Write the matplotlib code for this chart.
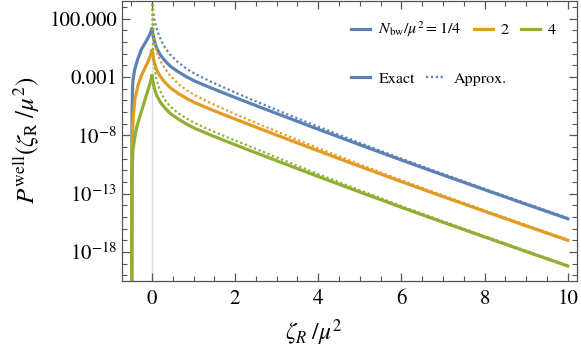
import numpy as np
import matplotlib
matplotlib.use('Agg')
import matplotlib.pyplot as plt
from matplotlib.lines import Line2D

# values, y given as log10 of P
x_left_blue = [-0.49, -0.48, -0.47, -0.46, -0.42, -0.34, -0.25, -0.13, -0.05, 0.0]
y_left_blue = [-25, -6.5, -4.5, -3.4, -2.44, -1.45, -0.6, 0.12, 0.65, 1.1]
x_left_orange = [-0.49, -0.48, -0.47, -0.45, -0.41, -0.33, -0.25, -0.13, -0.05, 0.0]
y_left_orange = [-25, -9.5, -8.0, -6.4, -4.9, -3.65, -2.85, -1.95, -1.3, -0.74]
x_left_green = [-0.49, -0.48, -0.46, -0.43, -0.40, -0.36, -0.30, -0.24, -0.12, -0.05, 0.0]
y_left_green = [-25, -11.5, -9.3, -8.6, -7.9, -7.2, -6.5, -5.8, -4.4, -3.6, -2.9]

x_right = [0.0, 0.05, 0.11, 0.2, 0.31, 0.45, 0.63, 0.83, 1.03, 1.43, 1.83, 2.24,
           3, 4, 5, 6, 7, 8, 9, 10]
y_right_blue = [1.1, 0.2, -0.5, -1.1, -1.6, -2.1, -2.55, -2.98, -3.35, -3.95, -4.52, -5.09,
                -6.13, -7.48, -8.81, -10.12, -11.4, -12.66, -13.91, -15.15]
y_right_orange = [-0.74, -1.65, -2.35, -2.95, -3.45, -3.95, -4.4, -4.83, -5.2, -5.8, -6.37, -6.94,
                  -7.98, -9.33, -10.66, -11.97, -13.25, -14.51, -15.76, -17.0]
y_right_green = [-2.9, -3.85, -4.55, -5.15, -5.65, -6.15, -6.6, -7.03, -7.4, -8.0, -8.57, -9.14,
                 -10.18, -11.53, -12.86, -14.17, -15.45, -16.71, -17.96, -19.2]

x_approx = [0.005, 0.02, 0.03, 0.05, 0.07, 0.11, 0.15, 0.23, 0.31, 0.43, 0.63, 0.83, 1.03,
            1.43, 1.83, 2.24, 3, 4, 5, 6, 7, 8, 9, 10]
y_approx_blue = [6, 3.6, 2.7, 2.1, 1.7, 1.2, 0.75, 0.05, -0.45, -1.05, -1.75, -2.28, -2.72,
                 -3.43, -4.06, -4.7, -5.83, -7.26, -8.65, -10.0, -11.3, -12.58, -13.84, -15.09]
y_approx_orange = [4.5, 2.2, 1.4, 0.6, 0.0, -0.7, -1.2, -1.8, -2.25, -2.85, -3.58, -4.12, -4.56,
                   -5.27, -5.9, -6.54, -7.67, -9.1, -10.49, -11.85, -13.15, -14.43, -15.69, -16.94]
y_approx_green = [4, 0.8, -0.7, -1.8, -2.4, -3.2, -3.75, -4.45, -4.95, -5.5, -6.1, -6.55, -6.95,
                  -7.6, -8.2, -8.78, -9.9, -11.32, -12.71, -14.06, -15.36, -16.64, -17.9, -19.15]

blue = '#5e81b5'
orange = '#e19c24'
green = '#8fb032'

plt.rcParams['mathtext.fontset'] = 'stix'
plt.rcParams['font.family'] = ['STIXGeneral', 'DejaVu Serif']

fig = plt.figure(figsize=(5.81, 3.49), dpi=100)
ax = fig.add_axes([0.21, 0.195, 0.783, 0.803])

ax.axvline(0, color='#dddddd', lw=1, zorder=0)

lw = 2.3
ax.plot(x_left_blue, 10.0 ** np.array(y_left_blue), color=blue, lw=lw)
ax.plot(x_left_orange, 10.0 ** np.array(y_left_orange), color=orange, lw=lw)
ax.plot(x_left_green, 10.0 ** np.array(y_left_green), color=green, lw=lw)
ax.plot(x_right, 10.0 ** np.array(y_right_blue), color=blue, lw=lw)
ax.plot(x_right, 10.0 ** np.array(y_right_orange), color=orange, lw=lw)
ax.plot(x_right, 10.0 ** np.array(y_right_green), color=green, lw=lw)

dot = (0, (1, 1.2))
ax.plot(x_approx, 10.0 ** np.array(y_approx_blue), color=blue, lw=1.6, ls=dot)
ax.plot(x_approx, 10.0 ** np.array(y_approx_orange), color=orange, lw=1.6, ls=dot)
ax.plot(x_approx, 10.0 ** np.array(y_approx_green), color=green, lw=1.6, ls=dot)

ax.set_yscale('log')
ax.set_xlim(-0.72, 10.22)
ax.set_ylim(10 ** -20.48, 10 ** 3.54)

ax.set_xticks([0, 2, 4, 6, 8, 10])
ax.set_xticks(np.arange(-0.5, 10.01, 0.5), minor=True)
ax.set_yticks([1e2, 1e-3, 1e-8, 1e-13, 1e-18],
              ['100.000', '0.001', r'$10^{-8}$', r'$10^{-13}$', r'$10^{-18}$'])
ax.set_yticks([10.0 ** k for k in range(-20, 4)], minor=True)
ax.yaxis.set_minor_formatter(matplotlib.ticker.NullFormatter())

for s in ax.spines.values():
    s.set_color('#555555')
    s.set_linewidth(0.9)
ax.tick_params(which='both', direction='in', top=True, right=True, color='#555555',
               labelsize=15)
ax.tick_params(which='major', length=6, width=0.9)
ax.tick_params(which='minor', length=3.5, width=0.8)
ax.tick_params(axis='x', pad=6)

ax.set_xlabel(r'$\zeta_R\;/\mu^2$', fontsize=17)
ax.xaxis.set_label_coords(0.42, -0.13)
ax.set_ylabel(r'$P^{\mathrm{well}}(\zeta_\mathrm{R}\;/\mu^2)$', fontsize=18)
ax.yaxis.set_label_coords(-0.175, 0.5)

h1 = [Line2D([], [], color=c, lw=2.3) for c in (blue, orange, green)]
leg1 = ax.legend(h1, [r'$N_{\mathrm{bw}}/\mu^2 = 1/4$', '2', '4'], ncol=3, frameon=False,
                 fontsize=11.5, handlelength=1.2, handletextpad=0.5, columnspacing=0.75,
                 loc='upper left', bbox_to_anchor=(0.49, 0.955), borderaxespad=0)
ax.add_artist(leg1)
h2 = [Line2D([], [], color=blue, lw=2.3), Line2D([], [], color=blue, lw=1.6, ls=dot)]
ax.legend(h2, ['Exact', 'Approx.'], ncol=2, frameon=False, fontsize=11.5,
          handlelength=1.2, handletextpad=0.5, columnspacing=0.7,
          loc='upper left', bbox_to_anchor=(0.49, 0.77), borderaxespad=0)

fig.savefig('out.png', dpi=100)
